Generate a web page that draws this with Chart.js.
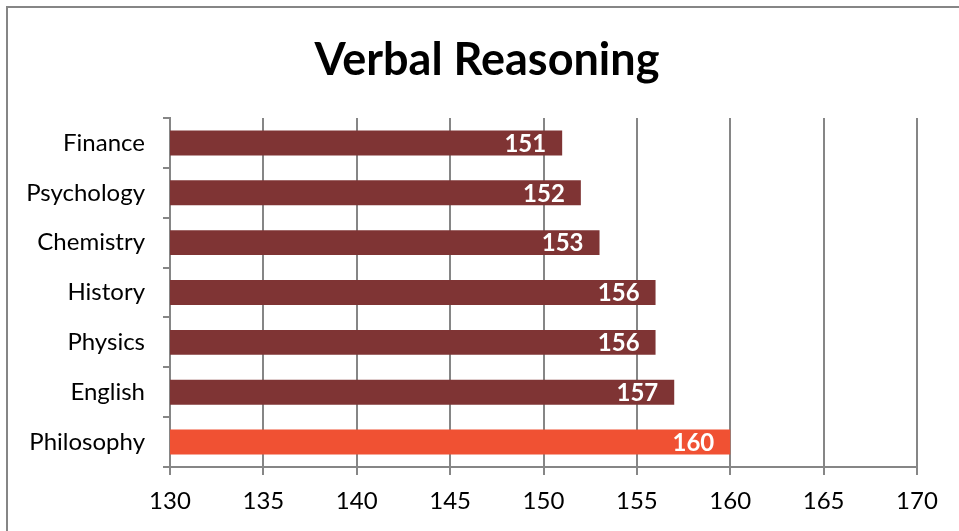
<!DOCTYPE html>
<html>
<head>
<meta charset="utf-8">
<script src="https://cdn.jsdelivr.net/npm/chart.js@4/dist/chart.umd.min.js"></script>
<style>
  html, body { margin: 0; padding: 0; background: #fff; }
  #wrap { width: 959px; height: 531px; position: relative; }
</style>
</head>
<body>
<div id="wrap"><canvas id="verbal-chart" width="959" height="531"></canvas></div>
<script>
// data
const subjects = ['Finance', 'Psychology', 'Chemistry', 'History', 'Physics', 'English', 'Philosophy'];
const scores = [151, 152, 153, 156, 156, 157, 160];
const barColors = ['#7f3434', '#7f3434', '#7f3434', '#7f3434', '#7f3434', '#7f3434', '#f05133'];
const xMin = 130, xMax = 170, xStep = 5;
const chartTitle = 'Verbal Reasoning';

const FONT = 'Lato, "Open Sans", sans-serif';
const GRAY = '#868686';

// outer frame like the spreadsheet chart box (left + top edge only visible) and the title
const framePlugin = {
    id: 'frame',
    beforeDraw(chart) {
        const c = chart.ctx;
        c.save();
        c.strokeStyle = GRAY; c.lineWidth = 2;
        c.beginPath();
        c.moveTo(7, chart.height); c.lineTo(7, 7); c.lineTo(chart.width, 7);
        c.stroke();
        // title is centred on the whole frame, not on the padded layout box
        c.font = 'bold 45px ' + FONT;
        c.fillStyle = '#000';
        c.textAlign = 'center';
        c.textBaseline = 'middle';
        c.fillText(chartTitle, 487, 60);
        c.restore();
    }
};

// value labels inside the bar end, white bold
const valueLabels = {
    id: 'valueLabels',
    afterDatasetsDraw(chart) {
        const c = chart.ctx;
        const meta = chart.getDatasetMeta(0);
        c.save();
        c.font = 'bold 24px ' + FONT;
        c.fillStyle = '#fff';
        c.textAlign = 'right';
        c.textBaseline = 'middle';
        meta.data.forEach((bar, i) => {
            c.fillText(String(scores[i]), bar.x - 16, bar.y + 1);
        });
        c.restore();
    }
};

new Chart(document.getElementById('verbal-chart'), {
    type: 'bar',
    data: {
        labels: subjects,
        datasets: [{
            data: scores,
            backgroundColor: barColors,
            borderWidth: 0,
            barPercentage: 0.5,
            categoryPercentage: 1.0
        }]
    },
    options: {
        indexAxis: 'y',
        responsive: false,
        animation: false,
        layout: { padding: { left: 14, right: 42, top: 118, bottom: 0 } },
        plugins: {
            legend: { display: false },
            tooltip: { enabled: false },
            title: { display: false }
        },
        scales: {
            x: {
                min: xMin, max: xMax,
                afterFit(s) { s.height = 64; },
                afterBuildTicks(s) {
                    const t = [];
                    for (let v = xMin; v <= xMax; v += xStep) t.push({ value: v });
                    s.ticks = t;
                },
                grid: { color: GRAY, lineWidth: 2, tickLength: 8, drawOnChartArea: true },
                border: { color: GRAY, width: 2 },
                ticks: { color: '#000', padding: 12, font: { family: FONT, size: 24 }, maxRotation: 0 }
            },
            y: {
                afterFit(s) { s.width = 170 - 14; },
                grid: { color: GRAY, lineWidth: 2, tickLength: 7, drawOnChartArea: false, offset: true },
                border: { color: GRAY, width: 2 },
                ticks: { color: '#000', padding: 18, font: { family: FONT, size: 24 } }
            }
        }
    },
    plugins: [framePlugin, valueLabels]
});
</script>
</body>
</html>
